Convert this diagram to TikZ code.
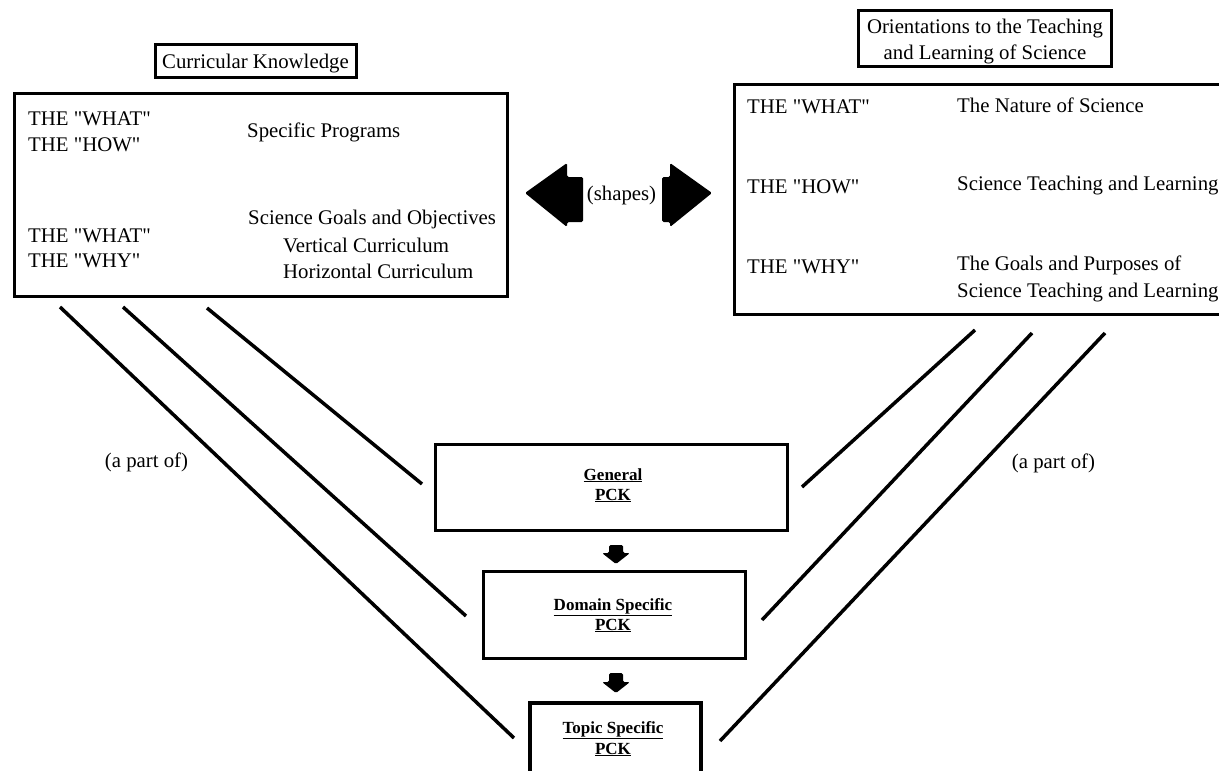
\documentclass[tikz,border=0pt]{standalone}
\usepackage{fontspec}
\setmainfont{Liberation Serif}[Ligatures=TeXOff]
\begin{document}
\begin{tikzpicture}[x=1pt,y=-1pt,
  frame/.style={draw, line width=3pt, inner sep=0pt},
  pckframe/.style={draw, line width=3.5pt, inner sep=0pt},
  txt/.style={anchor=base west, inner sep=0pt, font=\fontsize{20.8}{24}\selectfont},
  ctxt/.style={anchor=base, inner sep=0pt, font=\fontsize{20.8}{24}\selectfont},
  pck/.style={anchor=base, inner sep=0pt, font=\fontsize{17}{20}\selectfont\bfseries},
  link/.style={line width=3.5pt},
  blockarrow/.style={fill=black, rounded corners=1.5pt}]
\useasboundingbox (0,0) rectangle (1219,771);
\clip (0,0) rectangle (1219,771);

% ---- Curricular knowledge (left) ----
\node[frame, minimum width=201pt, minimum height=33pt] (ckTitleBox) at (255.5,60.5) {};
\node[ctxt] (ckTitle) at (255.5,68) {Curricular Knowledge};
\node[frame, minimum width=493pt, minimum height=203pt] (ckBox) at (260.5,194.5) {};
\node[txt] (ckWhat1) at (28,125) {THE "WHAT"};
\node[txt] (ckHow)   at (28,151) {THE "HOW"};
\node[txt] (ckProg)  at (247,137) {Specific Programs};
\node[txt] (ckGoals) at (248,224) {Science Goals and Objectives};
\node[txt] (ckVert)  at (283,252) {Vertical Curriculum};
\node[txt] (ckHor)   at (283,278) {Horizontal Curriculum};
\node[txt] (ckWhat2) at (28,242) {THE "WHAT"};
\node[txt] (ckWhy)   at (28,267) {THE "WHY"};

% ---- Orientations (right) ----
\node[frame, minimum width=253pt, minimum height=56pt] (orTitleBox) at (984.5,38) {};
\node[ctxt] (orTitle1) at (985,33) {Orientations to the Teaching};
\node[ctxt] (orTitle2) at (985,59) {and Learning of Science};
\node[frame, minimum width=492pt, minimum height=230pt] (orBox) at (980,199) {};
\node[txt] (orWhat)  at (747,113) {THE "WHAT"};
\node[txt] (orNat)   at (957,112) {The Nature of Science};
\node[txt] (orHow)   at (747,193) {THE "HOW"};
\node[txt] (orTeach) at (957,190) {Science Teaching and Learning};
\node[txt] (orWhy)   at (747,273) {THE "WHY"};
\node[txt] (orGoal1) at (957,270) {The Goals and Purposes of};
\node[txt] (orGoal2) at (957,297) {Science Teaching and Learning};

% ---- two-way block arrow between the knowledge boxes ----
\node[ctxt] (shapes) at (621.5,200) {(shapes)};
\fill[blockarrow] (525,193) -- (567,163) -- (567,177) -- (583,177)
  -- (583,222) -- (567,222) -- (567,227) -- cycle;
\fill[blockarrow] (712,193) -- (670,163) -- (670,177) -- (662,177)
  -- (662,222) -- (670,222) -- (670,227) -- cycle;

% ---- PCK levels ----
\node[pckframe, minimum width=352pt, minimum height=86pt] (genBox) at (611.5,487.5) {};
\node[pck] (gen1) at (613,480) {\underline{General}};
\node[pck] (gen2) at (613,500) {\underline{PCK}};
\node[pckframe, minimum width=262pt, minimum height=87pt] (domBox) at (614.5,615) {};
\node[pck] (dom1) at (613,610) {\underline{Domain Specific}};
\node[pck] (dom2) at (613,630) {\underline{PCK}};
\node[pckframe, minimum width=171pt, minimum height=120pt] (topBox) at (615.5,763) {};
\node[pck] (top1) at (613,733) {\underline{Topic Specific}};
\node[pck] (top2) at (613,754) {\underline{PCK}};

% downward block arrows between levels
\fill[blockarrow] (609,545) -- (623,545) -- (623,553) -- (630,553)
  -- (616,564) -- (602,553) -- (609,553) -- cycle;
\fill[blockarrow] (609,673) -- (623,673) -- (623,682) -- (630,682)
  -- (616,693) -- (602,682) -- (609,682) -- cycle;

% ---- "a part of" links ----
\coordinate (l1s) at (60,307);   \coordinate (l1e) at (514,738);
\coordinate (l2s) at (123,307);  \coordinate (l2e) at (466,616);
\coordinate (l3s) at (207,308);  \coordinate (l3e) at (422,484);
\coordinate (r1s) at (975,330);  \coordinate (r1e) at (802,487);
\coordinate (r2s) at (1032,333); \coordinate (r2e) at (762,620);
\coordinate (r3s) at (1105,333); \coordinate (r3e) at (720,741);
\draw[link] (l1s) -- (l1e);
\draw[link] (l2s) -- (l2e);
\draw[link] (l3s) -- (l3e);
\draw[link] (r1s) -- (r1e);
\draw[link] (r2s) -- (r2e);
\draw[link] (r3s) -- (r3e);
\node[ctxt] (partL) at (146.5,467) {(a part of)};
\node[ctxt] (partR) at (1053.5,468) {(a part of)};
\end{tikzpicture}
\end{document}
